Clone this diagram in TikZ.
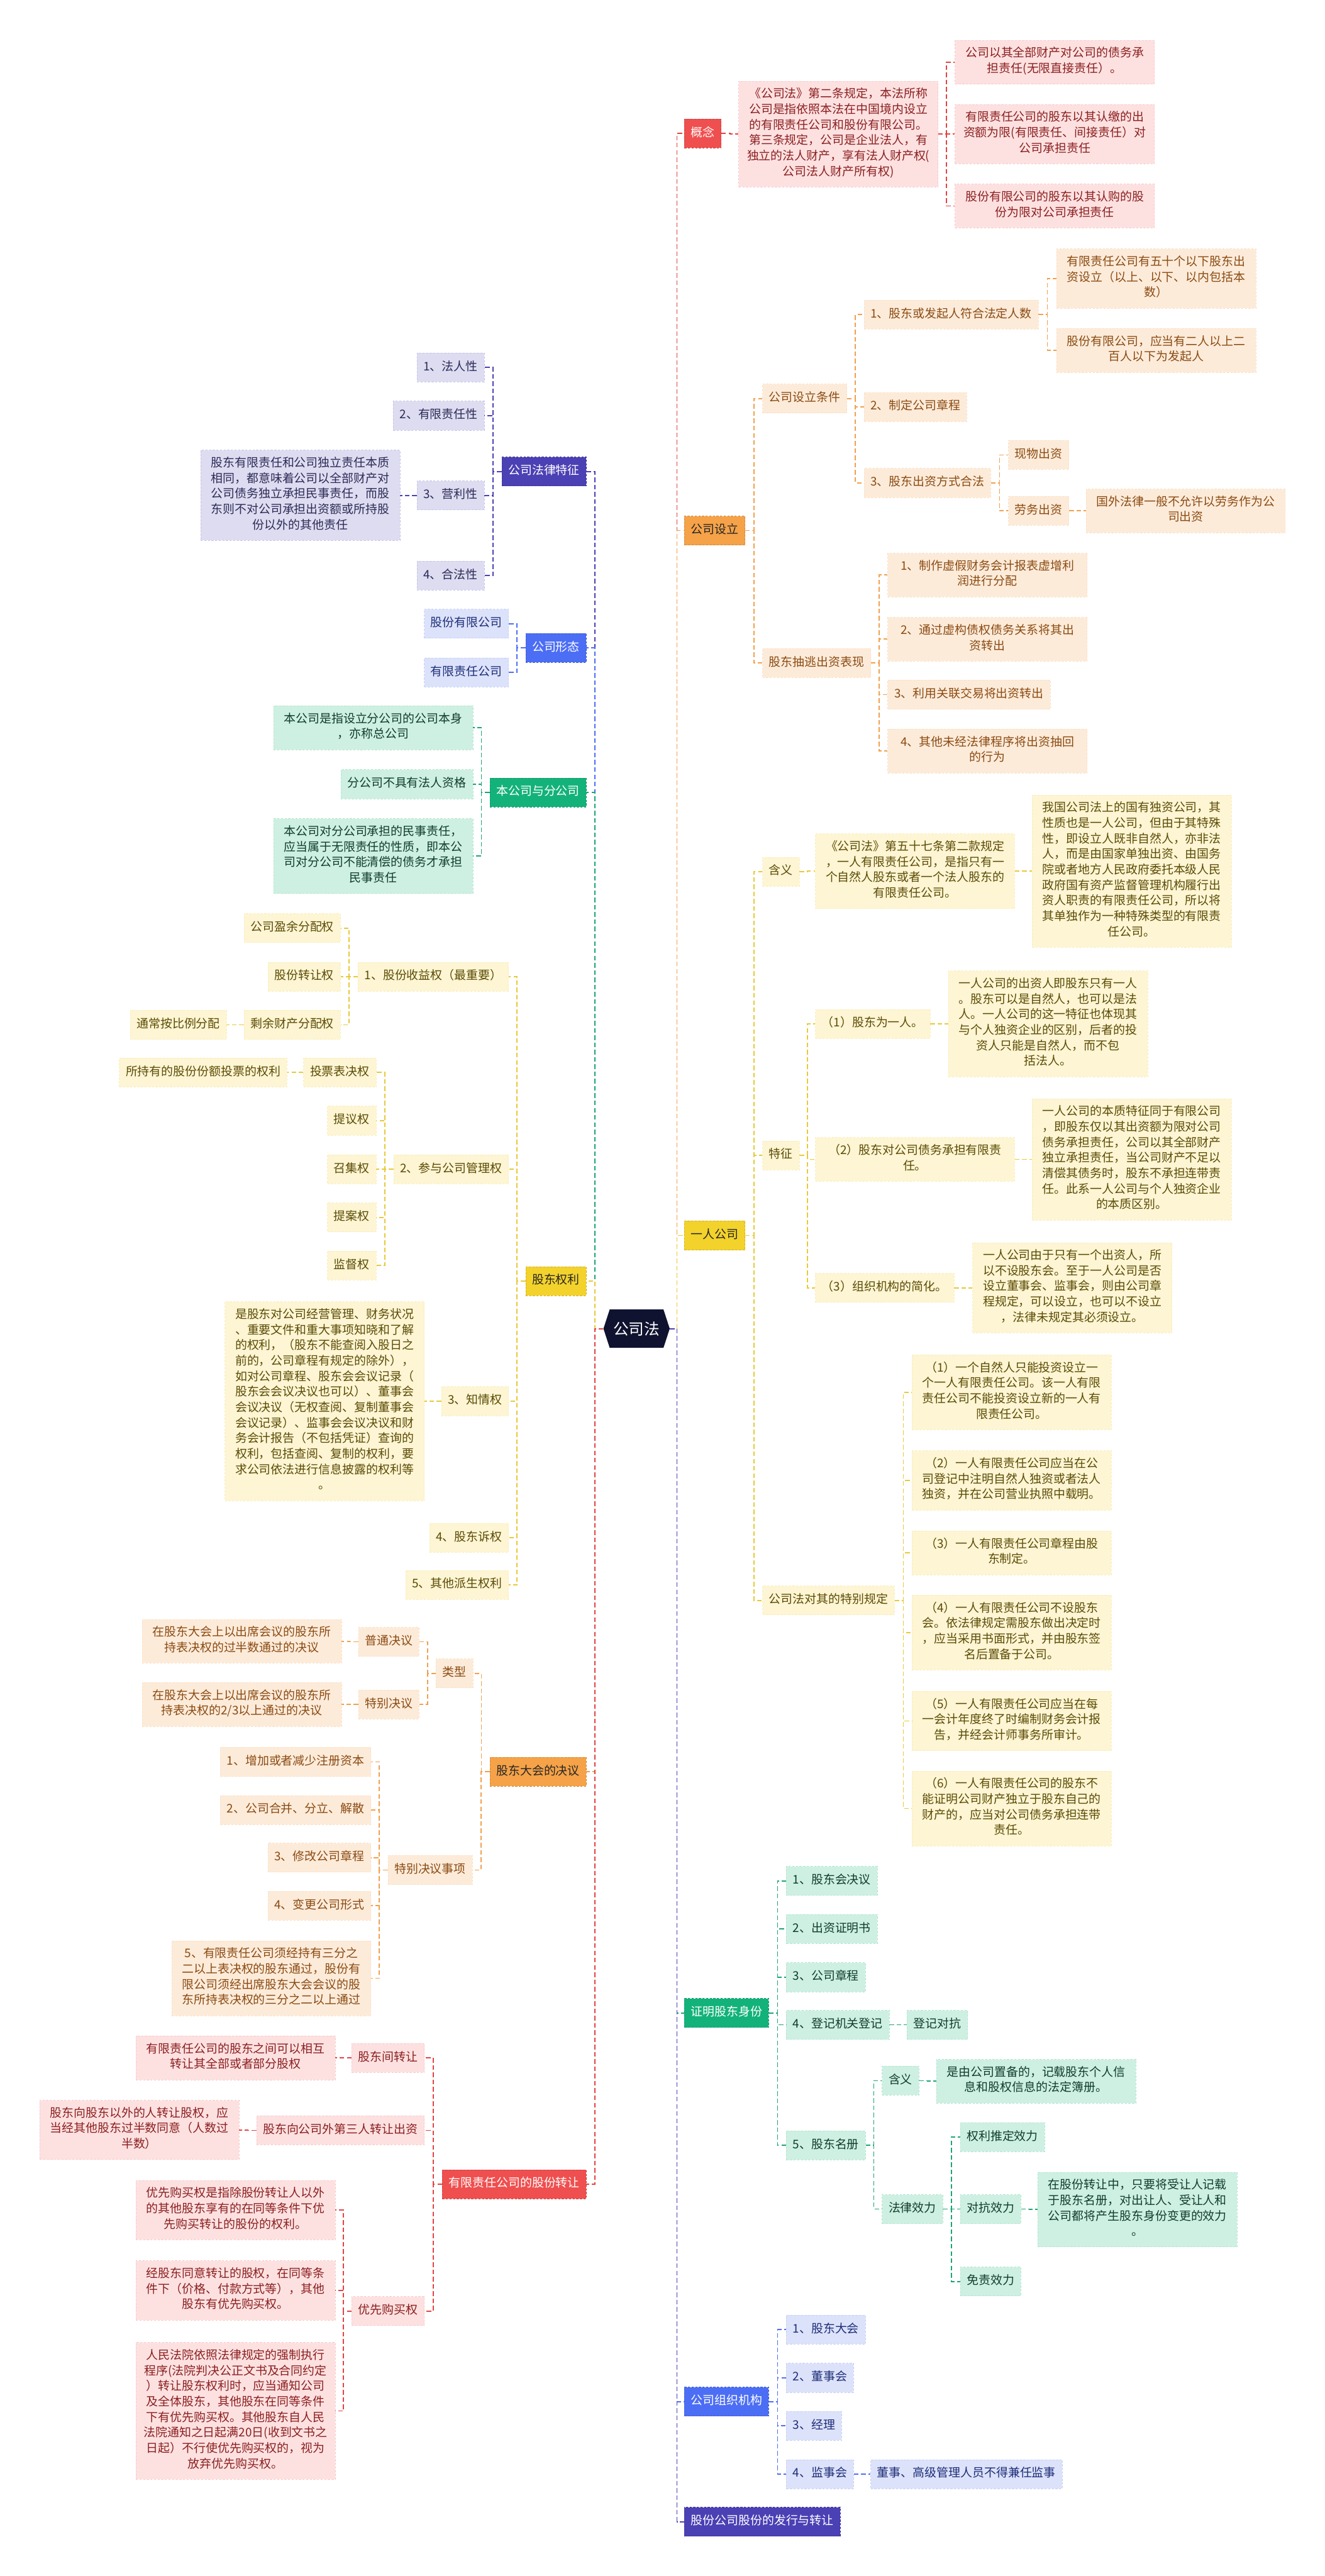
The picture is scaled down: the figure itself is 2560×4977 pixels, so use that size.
\documentclass[tikz,border=0pt]{standalone}
\usepackage{fontspec}
\newfontfamily\cjk{Noto Sans CJK SC}
\usetikzlibrary{calc,shapes.symbols}
\definecolor{cRoot}{HTML}{0F1330}
\definecolor{fRed}{HTML}{EF4F4F}\definecolor{pRed}{HTML}{FDE1E1}\definecolor{tRed}{HTML}{8B1F1F}\definecolor{lRed}{HTML}{E24343}
\definecolor{fOrg}{HTML}{F5A248}\definecolor{pOrg}{HTML}{FDEBDA}\definecolor{tOrg}{HTML}{8A4B12}\definecolor{lOrg}{HTML}{F0A04E}
\definecolor{fYel}{HTML}{F3D22C}\definecolor{pYel}{HTML}{FDF5D3}\definecolor{tYel}{HTML}{5B4B06}\definecolor{lYel}{HTML}{E8C93A}
\definecolor{fGrn}{HTML}{14B27B}\definecolor{pGrn}{HTML}{CEF0E2}\definecolor{tGrn}{HTML}{103D2C}\definecolor{lGrn}{HTML}{1DA473}
\definecolor{fBlu}{HTML}{4C6EF5}\definecolor{pBlu}{HTML}{DCE2FA}\definecolor{tBlu}{HTML}{1F2E78}\definecolor{lBlu}{HTML}{4C6EF5}
\definecolor{fInd}{HTML}{4B40B4}\definecolor{pInd}{HTML}{DDDCF1}\definecolor{tInd}{HTML}{2C2B55}\definecolor{lInd}{HTML}{4B40B4}
\newcommand\fs{\fontsize{23pt}{30pt}\selectfont\cjk}
\tikzset{
  box/.style={rectangle, inner xsep=12.5pt, inner ysep=13pt, font=\fs, align=center,
    execute at begin node=\strut, execute at end node=\strut,
    dash pattern=on 4pt off 3pt, line width=0.8pt},
  R/.style={anchor=west}, L/.style={anchor=east},
  mw/.style={minimum width=385pt},
  l1/.style={box, text=black!85, draw=#1!85!black, fill=#1},
  l1w/.style={box, text=white, draw=#1!85!black, fill=#1},
  sRed/.style={box, fill=pRed, text=tRed, draw=pRed!85!lRed},
  sOrg/.style={box, fill=pOrg, text=tOrg, draw=pOrg!85!lOrg},
  sYel/.style={box, fill=pYel, text=tYel, draw=pYel!85!lYel},
  sGrn/.style={box, fill=pGrn, text=tGrn, draw=pGrn!85!lGrn},
  sBlu/.style={box, fill=pBlu, text=tBlu, draw=pBlu!85!lBlu},
  sInd/.style={box, fill=pInd, text=tInd, draw=pInd!85!lInd},
  ln/.style={draw=#1, dash pattern=on 9pt off 5pt, line width=2.2pt},
  elb/.style={to path={(\tikztostart) -| ($(\tikztostart)!0.5!(\tikztotarget)$) |- (\tikztotarget)}}
}
\begin{document}
\begin{tikzpicture}[x=1pt,y=-1pt]
\fill[white] (0,0) rectangle (2560,4977);
\useasboundingbox (0,0) rectangle (2560,4977);

% root
\node[signal, signal to=west and east, signal pointer angle=144, fill=cRoot, text=white,
  font=\fontsize{30pt}{36pt}\selectfont\cjk, minimum width=128pt, minimum height=74pt, inner sep=4pt] (root) at (1230,2567) {公司法};

% ===== RIGHT SIDE =====
\node[R,l1w=fRed] (gn) at (1322,258) {概念};
\node[R,l1=fOrg] (sl) at (1322,1025) {公司设立};
\node[R,l1=fYel] (yr) at (1322,2387) {一人公司};
\node[R,l1w=fGrn] (zm) at (1322,3889) {证明股东身份};
\node[R,l1w=fBlu] (zz) at (1322,4640) {公司组织机构};
\node[R,l1w=fInd] (gf) at (1322,4872) {股份公司股份的发行与转让};

% 概念
\node[R,sRed,mw] (gn1) at (1427,259) {《公司法》第二条规定，本法所称\\公司是指依照本法在中国境内设立\\的有限责任公司和股份有限公司。\\第三条规定，公司是企业法人，有\\独立的法人财产，享有法人财产权(\\公司法人财产所有权)};
\node[R,sRed,mw] (gn1a) at (1845,120) {公司以其全部财产对公司的债务承\\担责任(无限直接责任）。};
\node[R,sRed,mw] (gn1b) at (1845,259) {有限责任公司的股东以其认缴的出\\资额为限(有限责任、间接责任）对\\公司承担责任};
\node[R,sRed,mw] (gn1c) at (1845,398) {股份有限公司的股东以其认购的股\\份为限对公司承担责任};

% 公司设立
\node[R,sOrg] (sl1) at (1473,770) {公司设立条件};
\node[R,sOrg] (sl2) at (1473,1281) {股东抽逃出资表现};
\node[R,sOrg] (sl11) at (1669,608) {1、股东或发起人符合法定人数};
\node[R,sOrg] (sl12) at (1669,786) {2、制定公司章程};
\node[R,sOrg] (sl13) at (1669,933) {3、股东出资方式合法};
\node[R,sOrg,mw] (sl111) at (2041,538) {有限责任公司有五十个以下股东出\\资设立（以上、以下、以内包括本\\数）};
\node[R,sOrg,mw] (sl112) at (2041,677) {股份有限公司，应当有二人以上二\\百人以下为发起人};
\node[R,sOrg] (sl131) at (1948,879) {现物出资};
\node[R,sOrg] (sl132) at (1948,987) {劳务出资};
\node[R,sOrg,mw] (sl1321) at (2098,987) {国外法律一般不允许以劳务作为公\\司出资};
\node[R,sOrg,mw] (sl21) at (1715,1111) {1、制作虚假财务会计报表虚增利\\润进行分配};
\node[R,sOrg,mw] (sl22) at (1715,1235) {2、通过虚构债权债务关系将其出\\资转出};
\node[R,sOrg] (sl23) at (1715,1342) {3、利用关联交易将出资转出};
\node[R,sOrg,mw] (sl24) at (1715,1451) {4、其他未经法律程序将出资抽回\\的行为};

% 一人公司
\node[R,sYel] (yr1) at (1473,1684) {含义};
\node[R,sYel] (yr2) at (1473,2232) {特征};
\node[R,sYel] (yr3) at (1473,3092) {公司法对其的特别规定};
\node[R,sYel,mw] (yr11) at (1575,1683) {《公司法》第五十七条第二款规定\\，一人有限责任公司，是指只有一\\个自然人股东或者一个法人股东的\\有限责任公司。};
\node[R,sYel,mw] (yr111) at (1994,1683) {我国公司法上的国有独资公司，其\\性质也是一人公司，但由于其特殊\\性，即设立人既非自然人，亦非法\\人，而是由国家单独出资、由国务\\院或者地方人民政府委托本级人民\\政府国有资产监督管理机构履行出\\资人职责的有限责任公司，所以将\\其单独作为一种特殊类型的有限责\\任公司。};
\node[R,sYel] (yr21) at (1575,1978) {（1）股东为一人。};
\node[R,sYel,mw] (yr211) at (1832,1978) {一人公司的出资人即股东只有一人\\。股东可以是自然人，也可以是法\\人。一人公司的这一特征也体现其\\与个人独资企业的区别，后者的投\\资人只能是自然人，而不包\\括法人。};
\node[R,sYel,mw] (yr22) at (1575,2240) {（2）股东对公司债务承担有限责\\任。};
\node[R,sYel,mw] (yr221) at (1994,2240) {一人公司的本质特征同于有限公司\\，即股东仅以其出资额为限对公司\\债务承担责任，公司以其全部财产\\独立承担责任，当公司财产不足以\\清偿其债务时，股东不承担连带责\\任。此系一人公司与个人独资企业\\的本质区别。};
\node[R,sYel] (yr23) at (1575,2488) {（3）组织机构的简化。};
\node[R,sYel,mw] (yr231) at (1879,2488) {一人公司由于只有一个出资人，所\\以不设股东会。至于一人公司是否\\设立董事会、监事会，则由公司章\\程规定，可以设立，也可以不设立\\，法律未规定其必须设立。};
\node[R,sYel,mw] (yr31) at (1762,2690) {（1）一个自然人只能投资设立一\\个一人有限责任公司。该一人有限\\责任公司不能投资设立新的一人有\\限责任公司。};
\node[R,sYel,mw] (yr32) at (1762,2860) {（2）一人有限责任公司应当在公\\司登记中注明自然人独资或者法人\\独资，并在公司营业执照中载明。};
\node[R,sYel,mw] (yr33) at (1762,3000) {（3）一人有限责任公司章程由股\\东制定。};
\node[R,sYel,mw] (yr34) at (1762,3154) {（4）一人有限责任公司不设股东\\会。依法律规定需股东做出决定时\\，应当采用书面形式，并由股东签\\名后置备于公司。};
\node[R,sYel,mw] (yr35) at (1762,3325) {（5）一人有限责任公司应当在每\\一会计年度终了时编制财务会计报\\告，并经会计师事务所审计。};
\node[R,sYel,mw] (yr36) at (1762,3494) {（6）一人有限责任公司的股东不\\能证明公司财产独立于股东自己的\\财产的，应当对公司债务承担连带\\责任。};

% 证明股东身份
\node[R,sGrn] (zm1) at (1519,3634) {1、股东会决议};
\node[R,sGrn] (zm2) at (1519,3727) {2、出资证明书};
\node[R,sGrn] (zm3) at (1519,3820) {3、公司章程};
\node[R,sGrn] (zm4) at (1519,3912) {4、登记机关登记};
\node[R,sGrn] (zm41) at (1752,3912) {登记对抗};
\node[R,sGrn] (zm5) at (1519,4145) {5、股东名册};
\node[R,sGrn] (zm51) at (1704,4020) {含义};
\node[R,sGrn,mw] (zm511) at (1809,4021) {是由公司置备的，记载股东个人信\\息和股权信息的法定簿册。};
\node[R,sGrn] (zm52) at (1704,4268) {法律效力};
\node[R,sGrn] (zm521) at (1855,4129) {权利推定效力};
\node[R,sGrn] (zm522) at (1855,4268) {对抗效力};
\node[R,sGrn,mw] (zm5221) at (2005,4269) {在股份转让中，只要将受让人记载\\于股东名册，对出让人、受让人和\\公司都将产生股东身份变更的效力\\。};
\node[R,sGrn] (zm523) at (1855,4408) {免责效力};

% 公司组织机构
\node[R,sBlu] (zz1) at (1519,4501) {1、股东大会};
\node[R,sBlu] (zz2) at (1519,4594) {2、董事会};
\node[R,sBlu] (zz3) at (1519,4687) {3、经理};
\node[R,sBlu] (zz4) at (1519,4780) {4、监事会};
\node[R,sBlu] (zz41) at (1682,4780) {董事、高级管理人员不得兼任监事};

% ===== LEFT SIDE =====
\node[L,l1w=fInd] (tz) at (1133,911) {公司法律特征};
\node[L,l1w=fBlu] (xt) at (1133,1252) {公司形态};
\node[L,l1w=fGrn] (bf) at (1133,1531) {本公司与分公司};
\node[L,l1=fYel] (gq) at (1133,2475) {股东权利};
\node[L,l1=fOrg] (jy) at (1133,3423) {股东大会的决议};
\node[L,l1w=fRed] (zr) at (1133,4220) {有限责任公司的股份转让};

% 公司法律特征
\node[L,sInd] (tz1) at (936,710) {1、法人性};
\node[L,sInd] (tz2) at (936,803) {2、有限责任性};
\node[L,sInd] (tz3) at (936,957) {3、营利性};
\node[L,sInd,mw] (tz31) at (773,957) {股东有限责任和公司独立责任本质\\相同，都意味着公司以全部财产对\\公司债务独立承担民事责任，而股\\东则不对公司承担出资额或所持股\\份以外的其他责任};
\node[L,sInd] (tz4) at (936,1112) {4、合法性};

% 公司形态
\node[L,sBlu] (xt1) at (983,1205) {股份有限公司};
\node[L,sBlu] (xt2) at (983,1299) {有限责任公司};

% 本公司与分公司
\node[L,sGrn,mw] (bf1) at (914,1406) {本公司是指设立分公司的公司本身\\，亦称总公司};
\node[L,sGrn] (bf2) at (914,1515) {分公司不具有法人资格};
\node[L,sGrn,mw] (bf3) at (914,1654) {本公司对分公司承担的民事责任，\\应当属于无限责任的性质，即本公\\司对分公司不能清偿的债务才承担\\民事责任};

% 股东权利
\node[L,sYel] (gq1) at (983,1887) {1、股份收益权（最重要）};
\node[L,sYel] (gq11) at (658,1793) {公司盈余分配权};
\node[L,sYel] (gq12) at (658,1887) {股份转让权};
\node[L,sYel] (gq13) at (658,1980) {剩余财产分配权};
\node[L,sYel] (gq131) at (438,1980) {通常按比例分配};
\node[L,sYel] (gq2) at (983,2259) {2、参与公司管理权};
\node[L,sYel] (gq21) at (727,2072) {投票表决权};
\node[L,sYel] (gq211) at (555,2072) {所持有的股份份额投票的权利};
\node[L,sYel] (gq22) at (727,2165) {提议权};
\node[L,sYel] (gq23) at (727,2259) {召集权};
\node[L,sYel] (gq24) at (727,2352) {提案权};
\node[L,sYel] (gq25) at (727,2445) {监督权};
\node[L,sYel] (gq3) at (983,2707) {3、知情权};
\node[L,sYel,mw] (gq31) at (820,2707) {是股东对公司经营管理、财务状况\\、重要文件和重大事项知晓和了解\\的权利，（股东不能查阅入股日之\\前的，公司章程有规定的除外），\\如对公司章程、股东会会议记录（\\股东会会议决议也可以）、董事会\\会议决议（无权查阅、复制董事会\\会议记录）、监事会会议决议和财\\务会计报告（不包括凭证）查询的\\权利，包括查阅、复制的权利，要\\求公司依法进行信息披露的权利等\\。};
\node[L,sYel] (gq4) at (983,2971) {4、股东诉权};
\node[L,sYel] (gq5) at (983,3062) {5、其他派生权利};

% 股东大会的决议
\node[L,sOrg] (jy1) at (914,3233) {类型};
\node[L,sOrg] (jy11) at (810,3172) {普通决议};
\node[L,sOrg,mw] (jy111) at (660,3171) {在股东大会上以出席会议的股东所\\持表决权的过半数通过的决议};
\node[L,sOrg] (jy12) at (810,3293) {特别决议};
\node[L,sOrg,mw] (jy121) at (660,3293) {在股东大会上以出席会议的股东所\\持表决权的2/3以上通过的决议};
\node[L,sOrg] (jy2) at (913,3613) {特别决议事项};
\node[L,sOrg] (jy21) at (717,3404) {1、增加或者减少注册资本};
\node[L,sOrg] (jy22) at (717,3497) {2、公司合并、分立、解散};
\node[L,sOrg] (jy23) at (717,3589) {3、修改公司章程};
\node[L,sOrg] (jy24) at (717,3682) {4、变更公司形式};
\node[L,sOrg,mw] (jy25) at (717,3822) {5、有限责任公司须经持有三分之\\二以上表决权的股东通过，股份有\\限公司须经出席股东大会会议的股\\东所持表决权的三分之二以上通过};

% 有限责任公司的股份转让
\node[L,sRed] (zr1) at (820,3976) {股东间转让};
\node[L,sRed,mw] (zr11) at (648,3976) {有限责任公司的股东之间可以相互\\转让其全部或者部分股权};
\node[L,sRed] (zr2) at (820,4116) {股东向公司外第三人转让出资};
\node[L,sRed,mw] (zr21) at (462,4115) {股东向股东以外的人转让股权，应\\当经其他股东过半数同意（人数过\\半数）};
\node[L,sRed] (zr3) at (820,4465) {优先购买权};
\node[L,sRed,mw] (zr31) at (648,4270) {优先购买权是指除股份转让人以外\\的其他股东享有的在同等条件下优\\先购买转让的股份的权利。};
\node[L,sRed,mw] (zr32) at (648,4425) {经股东同意转让的股权，在同等条\\件下（价格、付款方式等），其他\\股东有优先购买权。};
\node[L,sRed,mw] (zr33) at (648,4658) {人民法院依照法律规定的强制执行\\程序(法院判决公正文书及合同约定\\）转让股东权利时，应当通知公司\\及全体股东，其他股东在同等条件\\下有优先购买权。其他股东自人民\\法院通知之日起满20日(收到文书之\\日起）不行使优先购买权的，视为\\放弃优先购买权。};

% ===== CONNECTORS =====
\foreach \nd/\co in {gn/lRed, sl/lOrg, yr/lYel, zm/lGrn, zz/lBlu, gf/lInd}
  \draw[ln=\co] (root.east) to[elb] (\nd.west);
\foreach \nd/\co in {tz/lInd, xt/lBlu, bf/lGrn, gq/lYel, jy/lOrg, zr/lRed}
  \draw[ln=\co] (root.west) to[elb] (\nd.east);

\foreach \pa/\ch in {gn/gn1, gn1/gn1a, gn1/gn1b, gn1/gn1c}
  \draw[ln=lRed] (\pa.east) to[elb] (\ch.west);
\foreach \pa/\ch in {sl/sl1, sl/sl2, sl1/sl11, sl1/sl12, sl1/sl13, sl11/sl111, sl11/sl112, sl13/sl131, sl13/sl132, sl132/sl1321, sl2/sl21, sl2/sl22, sl2/sl23, sl2/sl24}
  \draw[ln=lOrg] (\pa.east) to[elb] (\ch.west);
\foreach \pa/\ch in {yr/yr1, yr/yr2, yr/yr3, yr1/yr11, yr11/yr111, yr2/yr21, yr2/yr22, yr2/yr23, yr21/yr211, yr22/yr221, yr23/yr231, yr3/yr31, yr3/yr32, yr3/yr33, yr3/yr34, yr3/yr35, yr3/yr36}
  \draw[ln=lYel] (\pa.east) to[elb] (\ch.west);
\foreach \pa/\ch in {zm/zm1, zm/zm2, zm/zm3, zm/zm4, zm/zm5, zm4/zm41, zm5/zm51, zm5/zm52, zm51/zm511, zm52/zm521, zm52/zm522, zm52/zm523, zm522/zm5221}
  \draw[ln=lGrn] (\pa.east) to[elb] (\ch.west);
\foreach \pa/\ch in {zz/zz1, zz/zz2, zz/zz3, zz/zz4, zz4/zz41}
  \draw[ln=lBlu] (\pa.east) to[elb] (\ch.west);

\foreach \pa/\ch in {tz/tz1, tz/tz2, tz/tz3, tz/tz4, tz3/tz31}
  \draw[ln=lInd] (\pa.west) to[elb] (\ch.east);
\foreach \pa/\ch in {xt/xt1, xt/xt2}
  \draw[ln=lBlu] (\pa.west) to[elb] (\ch.east);
\foreach \pa/\ch in {bf/bf1, bf/bf2, bf/bf3}
  \draw[ln=lGrn] (\pa.west) to[elb] (\ch.east);
\foreach \pa/\ch in {gq/gq1, gq/gq2, gq/gq3, gq/gq4, gq/gq5, gq1/gq11, gq1/gq12, gq1/gq13, gq13/gq131, gq2/gq21, gq2/gq22, gq2/gq23, gq2/gq24, gq2/gq25, gq21/gq211, gq3/gq31}
  \draw[ln=lYel] (\pa.west) to[elb] (\ch.east);
\foreach \pa/\ch in {jy/jy1, jy/jy2, jy1/jy11, jy1/jy12, jy11/jy111, jy12/jy121, jy2/jy21, jy2/jy22, jy2/jy23, jy2/jy24, jy2/jy25}
  \draw[ln=lOrg] (\pa.west) to[elb] (\ch.east);
\foreach \pa/\ch in {zr/zr1, zr/zr2, zr/zr3, zr1/zr11, zr2/zr21, zr3/zr31, zr3/zr32, zr3/zr33}
  \draw[ln=lRed] (\pa.west) to[elb] (\ch.east);
\end{tikzpicture}
\end{document}
